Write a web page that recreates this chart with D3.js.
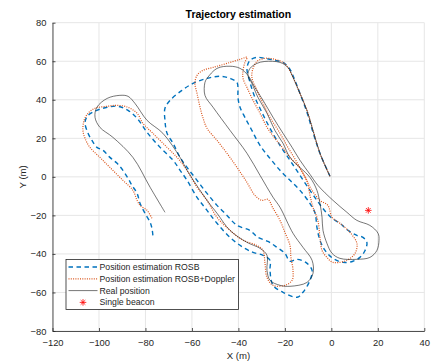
<!DOCTYPE html>
<meta charset="utf-8">
<script src="https://d3js.org/d3.v7.min.js"></script>
<html>
<head>
<style>
body { margin: 0; background-color: white; }
text { font-family: "Liberation Sans", Arial, Helvetica, sans-serif; fill: #262626; }
</style>
</head>
<body>
<div id="my_dataviz"></div>
</body>
</html>

<script>

// ---------------------------//
//           DATA             //
// ---------------------------//

// axis ticks
var xTicks = [-120, -100, -80, -60, -40, -20, 0, 20, 40];
var yTicks = [-80, -60, -40, -20, 0, 20, 40, 60, 80];

// Position estimation ROSB  [x, y] in metres
var rosb = [
  [-76.8,-30.4],[-77.2,-26.7],[-78.0,-23.6],[-80.2,-18.9],[-82.3,-13.8],[-83.6,-8.6],[-85.8,-4.4],
  [-87.5,-0.8],[-89.7,3.4],[-92.2,7.0],[-95.3,10.1],[-98.3,13.8],[-100.9,15.3],[-103.0,18.9],
  [-104.7,22.6],[-106.0,28.3],[-104.7,31.9],[-100.9,34.5],[-96.5,36.1],[-91.8,36.6],[-87.5,34.5],
  [-83.6,30.4],[-79.3,23.1],[-73.7,15.3],[-68.1,8.6],[-65.1,3.4],[-62.1,-1.8],[-57.8,-10.6],
  [-53.5,-17.4],[-49.2,-24.1],[-43.6,-31.4],[-38.0,-36.6],[-33.7,-39.2],[-29.4,-40.7],[-26.4,-43.3],
  [-26.4,-48.5],[-25.1,-56.3],[-20.8,-59.9],[-14.8,-62.5],[-12.2,-59.9],[-9.2,-53.7],[-8.3,-48.5],
  [-11.0,-44.4],[-14.8,-42.8],[-17.8,-43.8],[-20.0,-39.7],[-23.4,-36.6],[-27.3,-33.5],[-31.6,-31.4],
  [-35.0,-27.8],[-40.6,-25.2],[-44.9,-20.0],[-49.2,-14.8],[-53.5,-8.6],[-57.8,-1.8],[-62.1,4.9],
  [-65.1,10.1],[-68.1,17.4],[-70.7,22.6],[-71.6,29.3],[-71.6,35.6],[-69.4,39.7],[-64.3,44.9],
  [-59.5,48.5],[-53.5,51.1],[-47.9,52.2],[-43.6,51.1],[-40.6,49.0],[-40.2,44.9],[-40.2,41.3],
  [-39.3,36.1],[-37.2,30.9],[-34.2,24.1],[-30.7,16.3],[-26.4,9.6],[-22.1,3.4],[-17.8,-1.8],
  [-13.5,-7.0],[-9.2,-13.8],[-7.0,-18.9],[-6.2,-26.2],[-4.9,-32.9],[-2.7,-38.2],[0.7,-42.3],
  [5.0,-44.4],[9.3,-43.8],[12.3,-41.8],[14.5,-38.2],[15.3,-34.0],[13.6,-31.4],[11.0,-30.4],
  [7.2,-27.8],[3.7,-24.1],[0.3,-21.5],[-1.9,-18.9],[-4.0,-15.8],[-6.2,-12.2],[-9.2,-7.0],
  [-13.5,0.8],[-17.8,8.6],[-22.1,16.3],[-26.4,25.2],[-29.9,33.5],[-32.9,41.3],[-35.0,49.0],
  [-36.3,56.3],[-35.0,60.5],[-32.0,62.0],[-28.6,61.5],[-24.3,60.5],[-20.8,59.4],[-17.8,55.8],
  [-15.7,50.1],[-13.5,43.3],[-10.5,33.5],[-7.9,23.1],[-4.9,12.2],[-0.6,0.3]
];

// Position estimation ROSB+Doppler
var rosbDoppler = [
  [-77.2,-21.5],[-79.3,-17.4],[-82.3,-14.8],[-83.6,-12.2],[-85.4,-7.0],[-89.7,-1.8],[-95.3,4.9],
  [-99.6,10.1],[-103.9,15.3],[-106.0,20.0],[-106.9,24.1],[-106.4,29.3],[-104.7,33.0],[-101.7,35.6],
  [-96.5,36.6],[-92.2,37.1],[-87.5,36.1],[-83.6,33.0],[-81.1,27.8],[-76.8,22.6],[-70.7,15.3],
  [-66.4,10.1],[-62.1,3.4],[-57.8,-5.4],[-53.5,-12.2],[-49.2,-21.0],[-43.6,-27.8],[-38.0,-32.9],
  [-32.0,-35.6],[-29.4,-38.2],[-28.6,-44.4],[-27.7,-52.2],[-25.1,-56.3],[-20.0,-56.3],[-16.9,-53.7],
  [-16.5,-48.5],[-17.4,-41.8],[-17.8,-35.6],[-20.0,-28.8],[-22.1,-22.6],[-25.1,-16.3],[-27.3,-11.7],
  [-29.9,-12.2],[-32.9,-9.6],[-36.3,-2.9],[-40.6,4.9],[-44.9,12.2],[-49.2,18.9],[-53.5,25.2],
  [-55.2,30.4],[-56.5,36.1],[-57.8,43.3],[-58.7,48.5],[-57.8,52.7],[-55.2,55.3],[-50.9,56.8],
  [-44.9,58.9],[-39.3,61.0],[-36.3,62.0],[-37.2,59.4],[-38.0,55.3],[-38.0,51.1],[-36.3,46.4],
  [-33.7,39.7],[-30.7,33.0],[-27.7,25.7],[-24.3,20.0],[-20.8,14.8],[-17.8,10.1],[-13.5,4.4],
  [-10.5,-1.8],[-9.2,-9.6],[-7.9,-15.8],[-5.8,-22.6],[-4.9,-31.4],[-4.0,-38.2],[-1.9,-41.8],
  [0.7,-44.4],[6.7,-43.3],[10.2,-39.7],[11.0,-34.5],[8.0,-28.8],[3.7,-24.1],[0.3,-21.0],
  [-1.5,-14.8],[-4.9,-12.2],[-8.3,-7.0],[-11.4,-0.3],[-14.8,7.5],[-18.7,15.3],[-22.1,22.6],
  [-26.4,30.9],[-29.4,38.1],[-32.0,44.9],[-34.2,51.6],[-33.7,56.3],[-32.0,59.9],[-28.6,61.5],
  [-24.3,61.0],[-20.8,59.4],[-18.7,56.8],[-16.5,51.6],[-13.5,43.3],[-10.5,34.5],[-7.9,24.1],
  [-4.9,12.2],[-0.6,0.3]
];

// Real position
var realPos = [
  [-71.6,-18.4],[-78.0,-5.4],[-85.4,10.1],[-94.0,20.5],[-99.6,25.7],[-101.7,30.9],[-100.9,36.1],
  [-96.5,40.7],[-91.0,42.3],[-87.5,41.8],[-84.5,38.1],[-79.3,29.3],[-72.5,22.6],[-65.1,10.1],
  [-62.1,3.4],[-53.5,-12.2],[-49.2,-18.9],[-43.6,-27.8],[-36.3,-34.0],[-30.7,-37.1],[-27.7,-40.7],
  [-27.7,-48.5],[-26.4,-53.7],[-22.1,-56.3],[-17.8,-56.8],[-10.5,-54.8],[-7.9,-50.1],[-8.3,-43.3],
  [-12.2,-36.6],[-16.5,-29.3],[-22.1,-15.8],[-25.1,-10.6],[-30.7,0.8],[-36.3,12.2],[-43.6,24.1],
  [-50.9,36.1],[-54.4,42.3],[-54.4,49.0],[-53.5,51.1],[-49.2,56.3],[-43.6,57.4],[-39.3,56.3],
  [-35.9,52.7],[-32.9,46.4],[-29.4,39.7],[-25.1,30.9],[-20.8,22.6],[-16.9,15.3],[-13.5,8.6],
  [-9.2,1.3],[-5.8,-4.4],[0.7,-12.2],[6.7,-18.4],[11.0,-22.6],[16.6,-25.2],[20.1,-29.3],
  [20.5,-32.9],[19.6,-38.2],[16.6,-41.8],[11.0,-42.8],[3.7,-42.3],[0.3,-39.7],[-1.9,-34.5],
  [-3.6,-27.8],[-4.0,-21.0],[-4.9,-13.8],[-6.2,-7.0],[-9.2,-0.3],[-17.8,10.1],[-20.8,17.4],
  [-24.3,24.1],[-27.7,33.0],[-31.6,41.3],[-34.2,48.5],[-35.9,52.7],[-35.0,56.3],[-32.0,58.9],
  [-28.6,59.9],[-22.1,59.4],[-18.7,56.8],[-16.5,51.6],[-13.5,43.3],[-10.5,34.5],[-7.9,24.1],
  [-4.9,12.2],[-0.6,0.3]
];

// Single beacon
var beacon = [[15.9, -17.4]];

var legendLabels = ["Position estimation ROSB", "Position estimation ROSB+Doppler", "Real position", "Single beacon"];

// ---------------------------//
//       SVG AND SCALES       //
// ---------------------------//

var W = 434, H = 362;
var margin = {top: 22.7, right: 9.7, bottom: 31, left: 52.5},
    width = W - margin.left - margin.right,
    height = H - margin.top - margin.bottom;

var svg = d3.select("#my_dataviz")
  .append("svg")
    .attr("width", W)
    .attr("height", H)
  .append("g")
    .attr("transform", "translate(" + margin.left + "," + margin.top + ")");

var x = d3.scaleLinear().domain([-120, 40]).range([0, width]);
var y = d3.scaleLinear().domain([-80, 80]).range([height, 0]);

// grid
svg.append("g")
  .selectAll("line")
  .data(xTicks)
  .enter()
  .append("line")
    .attr("x1", function(d){ return x(d); })
    .attr("x2", function(d){ return x(d); })
    .attr("y1", 0)
    .attr("y2", height)
    .style("stroke", "#e6e6e6")
    .style("stroke-width", 1);
svg.append("g")
  .selectAll("line")
  .data(yTicks)
  .enter()
  .append("line")
    .attr("x1", 0)
    .attr("x2", width)
    .attr("y1", function(d){ return y(d); })
    .attr("y2", function(d){ return y(d); })
    .style("stroke", "#e6e6e6")
    .style("stroke-width", 1);

// axes
var xAxis = svg.append("g")
  .attr("transform", "translate(0," + height + ")")
  .call(d3.axisBottom(x).tickValues(xTicks).tickSizeInner(-3).tickSizeOuter(0).tickPadding(8));
var yAxis = svg.append("g")
  .call(d3.axisLeft(y).tickValues(yTicks).tickSizeInner(-3).tickSizeOuter(0).tickPadding(6));

[xAxis, yAxis].forEach(function(a) {
  a.select(".domain").style("stroke", "#262626").style("stroke-width", 0.8);
  a.selectAll(".tick line").style("stroke", "#262626").style("stroke-width", 0.8);
  a.selectAll(".tick text")
    .style("font-family", "'Liberation Sans', Arial, sans-serif")
    .style("font-size", "9.4px")
    .style("fill", "#262626");
});

// axis labels
svg.append("text")
  .attr("text-anchor", "middle")
  .attr("x", width / 2)
  .attr("y", height + 28)
  .style("font-size", "9.6px")
  .text("X (m)");

svg.append("text")
  .attr("text-anchor", "middle")
  .attr("transform", "translate(" + (-27) + "," + (height / 2) + ") rotate(-90)")
  .style("font-size", "9.6px")
  .text("Y (m)");

// title
svg.append("text")
  .attr("text-anchor", "middle")
  .attr("x", width / 2)
  .attr("y", -5)
  .style("font-size", "10.5px")
  .style("font-weight", "bold")
  .style("fill", "#000")
  .text("Trajectory estimation");

// ---------------------------//
//          LINES             //
// ---------------------------//

var line = d3.line()
  .x(function(d){ return x(d[0]); })
  .y(function(d){ return y(d[1]); })
  .curve(d3.curveCatmullRom.alpha(0.5));

svg.append("path")
  .datum(rosb)
  .attr("d", line)
  .style("fill", "none")
  .style("stroke", "#0072BD")
  .style("stroke-width", 1.4)
  .style("stroke-dasharray", "4.5,3.5");

svg.append("path")
  .datum(rosbDoppler)
  .attr("d", line)
  .style("fill", "none")
  .style("stroke", "#D95319")
  .style("stroke-width", 1.2)
  .style("stroke-dasharray", "1,1.3");

svg.append("path")
  .datum(realPos)
  .attr("d", line)
  .style("fill", "none")
  .style("stroke", "#1a1a1a")
  .style("stroke-width", 0.6);

// asterisk marker
function asterisk(g, cx, cy, r) {
  var a = r * 0.7071;
  var segs = [[-r,0,r,0],[0,-r,0,r],[-a,-a,a,a],[-a,a,a,-a]];
  g.selectAll(null)
    .data(segs)
    .enter()
    .append("line")
      .attr("x1", function(s){ return cx + s[0]; })
      .attr("y1", function(s){ return cy + s[1]; })
      .attr("x2", function(s){ return cx + s[2]; })
      .attr("y2", function(s){ return cy + s[3]; })
      .style("stroke", "#ff0000")
      .style("stroke-width", 0.8);
}

beacon.forEach(function(b) {
  asterisk(svg.append("g"), x(b[0]), y(b[1]), 3.3);
});

// ---------------------------//
//          LEGEND            //
// ---------------------------//

var lg = svg.append("g")
  .attr("transform", "translate(" + (66 - margin.left) + "," + (259.5 - margin.top) + ")");

lg.append("rect")
  .attr("width", 172.5)
  .attr("height", 50)
  .style("fill", "white")
  .style("stroke", "#262626")
  .style("stroke-width", 0.8);

var styles = [
  {stroke: "#0072BD", w: 1.4, dash: "4.5,3.5"},
  {stroke: "#D95319", w: 1.2, dash: "1,1.3"},
  {stroke: "#1a1a1a", w: 0.6, dash: null},
  null
];

legendLabels.forEach(function(lbl, i) {
  var yy = 7.5 + i * 11.8;
  if (styles[i]) {
    lg.append("line")
      .attr("x1", 2.5).attr("x2", 31.5)
      .attr("y1", yy).attr("y2", yy)
      .style("stroke", styles[i].stroke)
      .style("stroke-width", styles[i].w)
      .style("stroke-dasharray", styles[i].dash);
  } else {
    asterisk(lg.append("g"), 17, yy, 3.3);
  }
  lg.append("text")
    .attr("x", 33.5)
    .attr("y", yy)
    .attr("dy", "0.35em")
    .style("font-size", "8.7px")
    .text(lbl);
});

</script>
